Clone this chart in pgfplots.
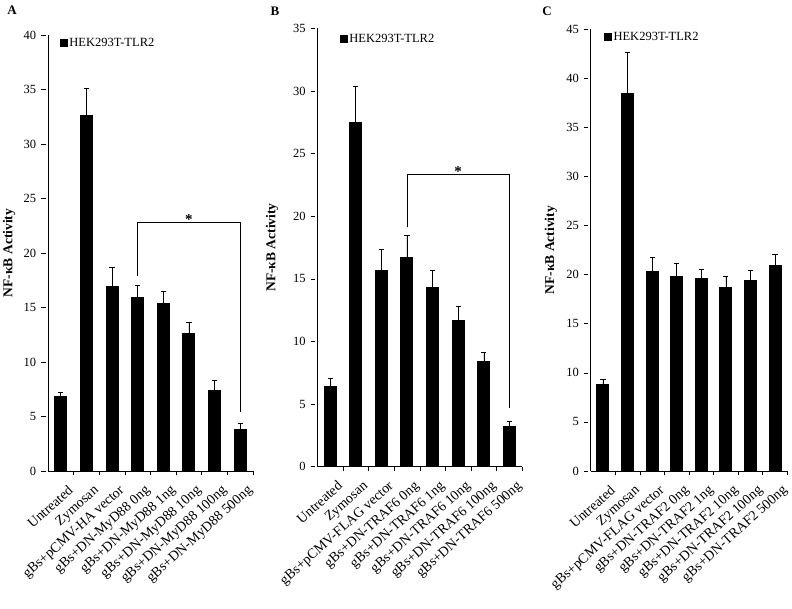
\documentclass[border=0pt]{standalone}
\usepackage{fontspec}
\setmainfont{Liberation Serif}
\usepackage{pgfplots}
\pgfplotsset{compat=1.18}
\pgfplotsset{
  panel/.style={
    scale only axis, anchor=south west,
    axis lines=left, axis line style={-, line width=0.8pt, black},
    ybar, bar width=12pt,
    xmin=-0.5, xmax=7.5, ymin=0,
    xtick={0.5,1.5,...,7.5}, xticklabels={},
    major tick length=4.5pt,
    tick style={black, line width=0.6pt},
    extra x ticks={0,1,...,7},
    extra x tick style={major tick length=0pt},
    xticklabel style={rotate=42, anchor=north east, font=\fontsize{14}{14}\selectfont, inner sep=0pt, xshift=-4pt, yshift=-14pt},
    yticklabel style={font=\fontsize{12.5}{13}\selectfont, xshift=-6pt},
    /pgf/number format/assume math mode=true,
    ytick style={xshift=-4.5pt},
    legend style={draw=none, fill=none, anchor=north west, font=\fontsize{12.5}{13}\selectfont, inner sep=0pt, legend cell align=left},
  },
  bars/.style={fill=black, draw=black, line width=0pt,
    legend image code/.code={\fill[black] (0pt,-3.6pt) rectangle (7.3pt,3.6pt);},
    error bars/.cd, y dir=plus, y explicit,
    error bar style={line width=0.7pt, black},
    error mark options={rotate=90, mark size=2.6pt, line width=0.7pt, black}},
}
\newcommand{\ylab}{\textbf{NF-κB Activity}}
\begin{document}
\begin{tikzpicture}
\useasboundingbox (0,0) rectangle (792pt,609pt);
\fill[white] (0,0) rectangle (792pt,609pt);
% Panel A
\begin{axis}[panel, at={(48pt,138pt)}, width=205pt, height=436pt, ymax=40,
  ytick={0,5,...,40},
  extra x tick labels={Untreated, Zymosan, gBs+pCMV-HA vector, gBs+DN-MyD88 0ng, gBs+DN-MyD88 1ng, gBs+DN-MyD88 10ng, gBs+DN-MyD88 100ng, gBs+DN-MyD88 500ng},
  ylabel={\ylab}, every axis y label/.style={at={(rel axis cs:-0.19,0.5)}, rotate=90, anchor=center, font=\fontsize{13.5}{14}\selectfont},
  legend style={at={(rel axis cs:0.058,0.998)}}]
\addplot[bars] table[x=x, y=y, y error=e] {
x y e
0 6.8 0.4
1 32.6 2.5
2 16.9 1.75
3 15.9 1.1
4 15.4 1.1
5 12.6 1.0
6 7.4 0.9
7 3.8 0.6
};
\addlegendentry{HEK293T-TLR2}
\draw[line width=0.6pt] (axis cs:3,17.9) |- (axis cs:7,22.8) -- (axis cs:7,5.4);
\node[anchor=base, inner sep=0pt, font=\bfseries\fontsize{15}{15}\selectfont] at (axis cs:5,22.6) {*};
\end{axis}
% Panel B
\begin{axis}[panel, at={(317.3pt,142.3pt)}, width=205pt, height=438.4pt, ymax=35,
  ytick={0,5,...,35},
  extra x tick labels={Untreated, Zymosan, gBs+pCMV-FLAG vector, gBs+DN-TRAF6 0ng, gBs+DN-TRAF6 1ng, gBs+DN-TRAF6 10ng, gBs+DN-TRAF6 100ng, gBs+DN-TRAF6 500ng},
  ylabel={\ylab}, every axis y label/.style={at={(rel axis cs:-0.22,0.5)}, rotate=90, anchor=center, font=\fontsize{13.5}{14}\selectfont},
  legend style={at={(rel axis cs:0.11,0.992)}}]
\addplot[bars] table[x=x, y=y, y error=e] {
x y e
0 6.4 0.65
1 27.5 2.9
2 15.7 1.65
3 16.7 1.8
4 14.3 1.4
5 11.65 1.15
6 8.4 0.7
7 3.2 0.45
};
\addlegendentry{HEK293T-TLR2}
\draw[line width=0.6pt] (axis cs:3,19.1) |- (axis cs:7,23.35) -- (axis cs:7,4.66);
\node[anchor=base, inner sep=0pt, font=\bfseries\fontsize{15}{15}\selectfont] at (axis cs:5,23.15) {*};
\end{axis}
% Panel C
\begin{axis}[panel, at={(590.7pt,138pt)}, width=196.6pt, height=441.7pt, ymax=45,
  ytick={0,5,...,45},
  extra x tick labels={Untreated, Zymosan, gBs+pCMV-FLAG vector, gBs+DN-TRAF2 0ng, gBs+DN-TRAF2 1ng, gBs+DN-TRAF2 10ng, gBs+DN-TRAF2 100ng, gBs+DN-TRAF2 500ng},
  ylabel={\ylab}, every axis y label/.style={at={(rel axis cs:-0.203,0.5)}, rotate=90, anchor=center, font=\fontsize{13.5}{14}\selectfont},
  legend style={at={(rel axis cs:0.068,0.999)}}]
\addplot[bars] table[x=x, y=y, y error=e] {
x y e
0 8.8 0.55
1 38.5 4.1
2 20.3 1.5
3 19.8 1.4
4 19.6 0.95
5 18.7 1.1
6 19.4 1.0
7 20.9 1.2
};
\addlegendentry{HEK293T-TLR2}
\end{axis}
\node[font=\bfseries\fontsize{13}{13}\selectfont] at (12pt,598.5pt) {A};
\node[font=\bfseries\fontsize{13}{13}\selectfont] at (275pt,598pt) {B};
\node[font=\bfseries\fontsize{13}{13}\selectfont] at (547pt,598pt) {C};
\end{tikzpicture}
\end{document}
